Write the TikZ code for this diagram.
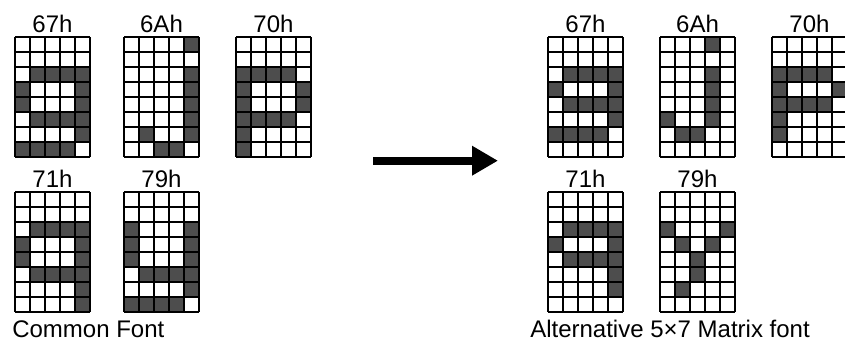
\documentclass[tikz,border=0pt]{standalone}
\usepackage{fontspec}
\setmainfont{Liberation Sans}
\usepackage{tikz}
\usetikzlibrary{arrows.meta, positioning}
\definecolor{pixdark}{RGB}{77,77,77}

% one 5x8 character cell: #1,#2 top left corner, #3 node name, #4 code, #5 dark pixels col/row
\newcommand{\pixchar}[5]{%
	\foreach \c/\r in {#5} \fill[pixdark] (#1+15*\c-15,#2+15*\r-15) rectangle ++(15,15);
	\foreach \i in {0,...,5} \draw[gridline] (#1+15*\i,#2) -- ++(0,120);
	\foreach \j in {0,...,8} \draw[gridline] (#1,#2+15*\j) -- ++(75,0);
	\node[code] (#3) at (#1+37.5,#2-5) {#4};
}

\begin{document}
\begin{tikzpicture}[x=0.75pt, y=-0.75pt, >={Triangle[length=19.5pt,width=21pt]},
		gridline/.style={line width=0.8pt, black},
		code/.style={anchor=base, inner sep=0pt, font=\fontsize{18}{20}\selectfont},
		caption/.style={anchor=base west, inner sep=0pt, font=\fontsize{18}{20}\selectfont}]
		\useasboundingbox (0,0) rectangle (845,343);
		% common font
		\pixchar{15}{37}{c67}{67h}{2/3,3/3,4/3,5/3,1/4,5/4,1/5,5/5,2/6,3/6,4/6,5/6,5/7,1/8,2/8,3/8,4/8}
		\pixchar{124}{37}{c6A}{6Ah}{5/1,5/3,5/4,5/5,5/6,2/7,5/7,3/8,4/8}
		\pixchar{236}{37}{c70}{70h}{1/3,2/3,3/3,4/3,1/4,5/4,1/5,5/5,1/6,2/6,3/6,4/6,1/7,1/8}
		\pixchar{15}{192}{c71}{71h}{2/3,3/3,4/3,5/3,1/4,5/4,1/5,5/5,2/6,3/6,4/6,5/6,5/7,5/8}
		\pixchar{124}{192}{c79}{79h}{1/3,5/3,1/4,5/4,1/5,5/5,2/6,3/6,4/6,5/6,5/7,1/8,2/8,3/8,4/8}
		\node[caption] (common) at (12,337) {Common Font};
		% alternative font
		\pixchar{548}{37}{a67}{67h}{2/3,3/3,4/3,5/3,1/4,5/4,2/5,3/5,4/5,5/5,5/6,1/7,2/7,3/7,4/7}
		\pixchar{660}{37}{a6A}{6Ah}{4/1,4/3,4/4,4/5,1/6,4/6,2/7,3/7}
		\pixchar{772}{37}{a70}{70h}{1/3,2/3,3/3,4/3,1/4,5/4,1/5,2/5,3/5,4/5,1/6,1/7}
		\pixchar{548}{192}{a71}{71h}{2/3,3/3,4/3,5/3,1/4,5/4,2/5,3/5,4/5,5/5,5/6,5/7}
		\pixchar{660}{192}{a79}{79h}{1/3,5/3,2/4,4/4,3/5,3/6,2/7}
		\node[caption] (alt) at (530,337) {Alternative 5×7 Matrix font};
		% arrow
		\coordinate (from) at (373,160.7); \coordinate (to) at (498,160.7);
		\draw[->, line width=6pt] (from) -- (to);
	\end{tikzpicture}
\end{document}
